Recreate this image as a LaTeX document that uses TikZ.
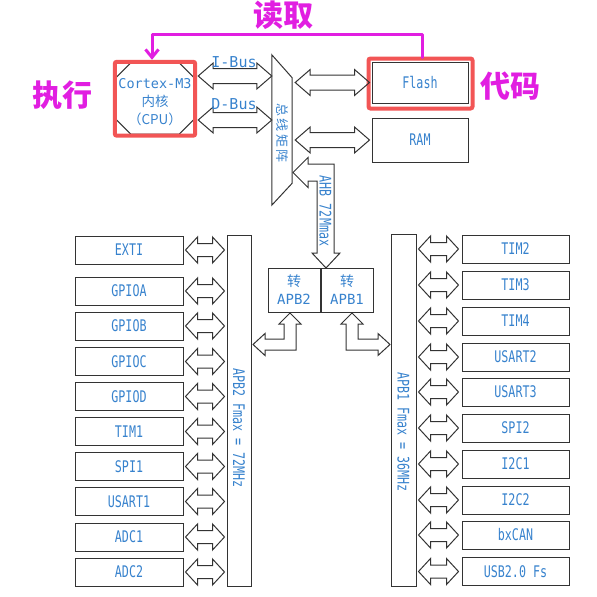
\documentclass[tikz,border=0pt]{standalone}
\usepackage{fontspec}
\usetikzlibrary{calc, positioning, arrows.meta}
\newfontfamily\lblfont{DejaVu Sans Mono}[FakeStretch=0.73]
\newfontfamily\widefont{DejaVu Sans Mono}
\newfontfamily\cjkfont{Noto Sans CJK SC}
\definecolor{lblblue}{RGB}{55,130,205}
\definecolor{pen}{RGB}{225,30,225}
\definecolor{hlred}{RGB}{242,85,85}
% hollow double arrow: start, end, head length, head half width, shaft half width
\newcommand{\dbarrow}[5]{%
  \draw[bus] let \p1=(#1), \p2=(#2) in
    (\x1,\y1) -- (\x1+#3,\y1+#4) -- (\x1+#3,\y1+#5) -- (\x2-#3,\y1+#5)
    -- (\x2-#3,\y1+#4) -- (\x2,\y1) -- (\x2-#3,\y1-#4) -- (\x2-#3,\y1-#5)
    -- (\x1+#3,\y1-#5) -- (\x1+#3,\y1-#4) -- cycle;}
\begin{document}
\begin{tikzpicture}[x=1pt, y=-1pt,
  bus/.style={draw=black!80, line width=1pt},
  perbox/.style={draw=black!80, line width=1pt, inner sep=0pt,
    minimum height=28pt, text=lblblue, font=\lblfont\fontsize{16}{18}\selectfont},
  barbox/.style={draw=black!80, line width=1pt, inner sep=0pt},
  lbl/.style={text=lblblue, font=\lblfont\fontsize{16}{18}\selectfont},
  hl/.style={draw=hlred, line width=4pt, rounded corners=2pt},
  note/.style={text=pen, font=\cjkfont\bfseries\fontsize{30}{32}\selectfont},
  readline/.style={draw=pen, line width=3pt, line cap=round, line join=round}]
  \useasboundingbox (0,0) rectangle (597,597);
  % CPU core, bus matrix, memories
  \node[inner sep=0pt, minimum width=78pt, minimum height=71pt] (cpu) at (155,98.5) {};
  \draw[bus] ([xshift=15pt]cpu.north west) -- ([xshift=-15pt]cpu.north east)
    -- ([yshift=-15pt]cpu.north east) -- ([yshift=15pt]cpu.south east)
    -- ([xshift=-15pt]cpu.south east) -- ([xshift=15pt]cpu.south west)
    -- ([yshift=15pt]cpu.south west) -- ([yshift=-15pt]cpu.north west) -- cycle;
  \node[align=center, text=lblblue, font=\widefont\fontsize{13.5}{18}\selectfont] (cputext)
    at ($(cpu.center)+(0,4)$) {Cortex-M3\\{\cjkfont 内核}\\{\cjkfont （CPU）}};
  \draw[hl] ($(cpu.north west)+(-1,-1)$) rectangle ($(cpu.south east)+(1,1.5)$);
  \node[inner sep=0pt, minimum width=20pt, minimum height=150pt] (bm) at (282,130) {};
  \draw[bus] (bm.north west) -- ($(bm.north east)+(0,23)$)
    -- ($(bm.south east)+(0,-22)$) -- (bm.south west) -- cycle;
  \node[rotate=-90, text=lblblue, font=\cjkfont\fontsize{13}{14}\selectfont] (bmtext)
    at (282,133) {总\,线\,矩\,阵};
  \node[perbox, minimum width=96pt, minimum height=41pt] (flash) at (420,82.5) {Flash};
  \draw[hl] ($(flash.north west)+(-3,-3)$) rectangle ($(flash.south east)+(4,5)$);
  \node[perbox, minimum width=96pt, minimum height=44pt] (ram) at (420,140) {RAM};
  % buses round the matrix
  \coordinate (ibus) at ($(cpu.east)+(4,-22.5)$);
  \coordinate (dbus) at ($(cpu.east)+(4,21.5)$);
  \dbarrow{ibus}{ibus -| bm.west}{15pt}{13pt}{7.5pt}
  \dbarrow{dbus}{dbus -| bm.west}{15pt}{13pt}{7.5pt}
  \node[text=lblblue, font=\widefont\fontsize{15}{16}\selectfont] (ibuslbl) at (234,62) {I-Bus};
  \node[text=lblblue, font=\widefont\fontsize{15}{16}\selectfont] (dbuslbl) at (234,104) {D-Bus};
  \dbarrow{$(flash.west -| bm.east)+(3,0)$}{$(flash.west)+(-2,0)$}{15pt}{13pt}{7.5pt}
  \dbarrow{$(ram.west -| bm.east)+(3,0)$}{$(ram.west)+(-2,0)$}{15pt}{13pt}{7.5pt}
  % AHB down to the bridges
  \node[barbox, minimum width=52pt, minimum height=44pt, align=center, text=lblblue,
    font=\widefont\fontsize{14}{18}\selectfont] (apb2br) at (294,290)
    {{\cjkfont 转}\\APB2};
  \node[barbox, minimum width=52pt, minimum height=44pt, align=center, text=lblblue,
    font=\widefont\fontsize{14}{18}\selectfont, right=0pt of apb2br] (apb1br)
    {{\cjkfont 转}\\APB1};
  \draw[bus] (293,172.5) -- (308,157.5) -- (308,164) -- (334,164) -- (334,253)
    -- (340,253) -- (326,268) -- (312,253) -- (317,253) -- (317,181)
    -- (308,181) -- (308,187.5) -- cycle;
  \node[lbl, rotate=-90] (ahb) at (325.5,211) {AHB 72Mmax};
  % APB2 / APB1 buses
  \node[barbox, minimum width=24pt, minimum height=351pt] (apb2bar) at (239,410.5) {};
  \node[lbl, rotate=-90] (apb2txt) at (239,428) {APB2 Fmax = 72MHz};
  \node[barbox, minimum width=25pt, minimum height=352pt] (apb1bar) at (403.5,410) {};
  \node[lbl, rotate=-90] (apb1txt) at (403.5,432) {APB1 Fmax = 36MHz};
  \draw[bus] (290,313) -- (301,324) -- (296,324) -- (296,350) -- (265,350)
    -- (265,355.5) -- (253,344.5) -- (265,333.5) -- (265,339) -- (284,339)
    -- (284,324) -- (279,324) -- cycle;
  \draw[bus] (352,313) -- (363,324) -- (358,324) -- (358,339) -- (378,339)
    -- (378,333.5) -- (390,344.5) -- (378,355.5) -- (378,350) -- (346,350)
    -- (346,324) -- (341,324) -- cycle;
  % peripherals
  \foreach \name/\y [count=\i] in {EXTI/250, GPIOA/291, GPIOB/326, GPIOC/361.5,
      GPIOD/396.5, TIM1/431.5, SPI1/466.5, USART1/501.5, ADC1/537, ADC2/572} {
    \node[perbox, minimum width=108pt] (l\i) at (129,\y) {\name};
    \dbarrow{$(l\i.east)+(2,0)$}{$(l\i.east -| apb2bar.west)+(-2,0)$}{12pt}{13pt}{6.5pt}
  }
  \foreach \name/\y [count=\i] in {TIM2/249, TIM3/285, TIM4/321, USART2/357,
      USART3/392, SPI2/428, I2C1/464, I2C2/500, bxCAN/535, USB2.0 Fs/571.5} {
    \node[perbox, minimum width=107pt] (r\i) at (515.5,\y) {\name};
    \dbarrow{$(r\i.west -| apb1bar.east)+(2,0)$}{$(r\i.west)+(-3,0)$}{12pt}{13pt}{6.5pt}
  }
  % handwritten notes
  \draw[readline, -{Straight Barb[length=8pt, width=13pt]}]
    ($(flash.north)+(2,-4)$) |- ($(cpu.north)+(-3,-28)$) -- ($(cpu.north)+(-3,-3)$);
  \node[note] (readnote) at (283,15) {读取};
  \node[note] (execnote) at (62,95) {执行};
  \node[note] (codenote) at (510,86) {代码};
\end{tikzpicture}
\end{document}
